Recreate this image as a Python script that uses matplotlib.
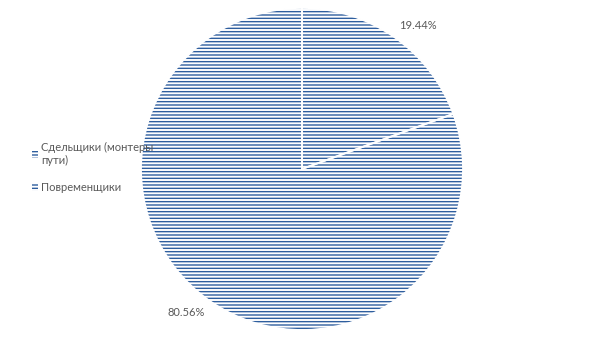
import matplotlib.pyplot as plt
import numpy as np

# Data
categories = ["Сдельщики (монтеры\nпути)", "Повременщики"]
shares = [19.44, 80.56]
pct_labels = ["19.44%", "80.56%"]

blue = "#2E5E9E"
grey = "#595959"

plt.rcParams['font.family'] = ['Lato', 'DejaVu Sans']
plt.rcParams['hatch.linewidth'] = 1.0

fig = plt.figure(figsize=(6.05, 3.4), dpi=100)
ax = fig.add_axes([141 / 605, 10 / 340, 322 / 605, 322 / 340])

# hatched wedges
wedges, _ = ax.pie(shares, startangle=90, counterclock=False, radius=1,
                   wedgeprops=dict(facecolor='white', edgecolor=blue, hatch='-----', linewidth=0))
# white separators
ax.pie(shares, startangle=90, counterclock=False, radius=1,
       wedgeprops=dict(fill=False, edgecolor='white', linewidth=1.3))

# percentage labels placed outside, anchored at the corner nearest the pie
angle = 90
for w, lab in zip(shares, pct_labels):
    mid = np.deg2rad(angle - w * 3.6 / 2)
    angle -= w * 3.6
    x, y = 1.05 * np.cos(mid), 1.05 * np.sin(mid)
    ax.text(x, y, lab, ha='left' if x > 0 else 'right',
            va='bottom' if y > 0 else 'top',
            fontsize=8, color=grey, clip_on=False)

ax.set_xlim(-1, 1)
ax.set_ylim(-1, 1)
ax.set_aspect('equal')
ax.axis('off')

fig.legend(wedges, categories, loc='upper left', bbox_to_anchor=(0.036, 0.612),
           frameon=False, fontsize=8, labelcolor=grey, handlelength=0.6,
           handleheight=0.55, handletextpad=0.25, labelspacing=1.5)

fig.savefig('out.png', dpi=100)
